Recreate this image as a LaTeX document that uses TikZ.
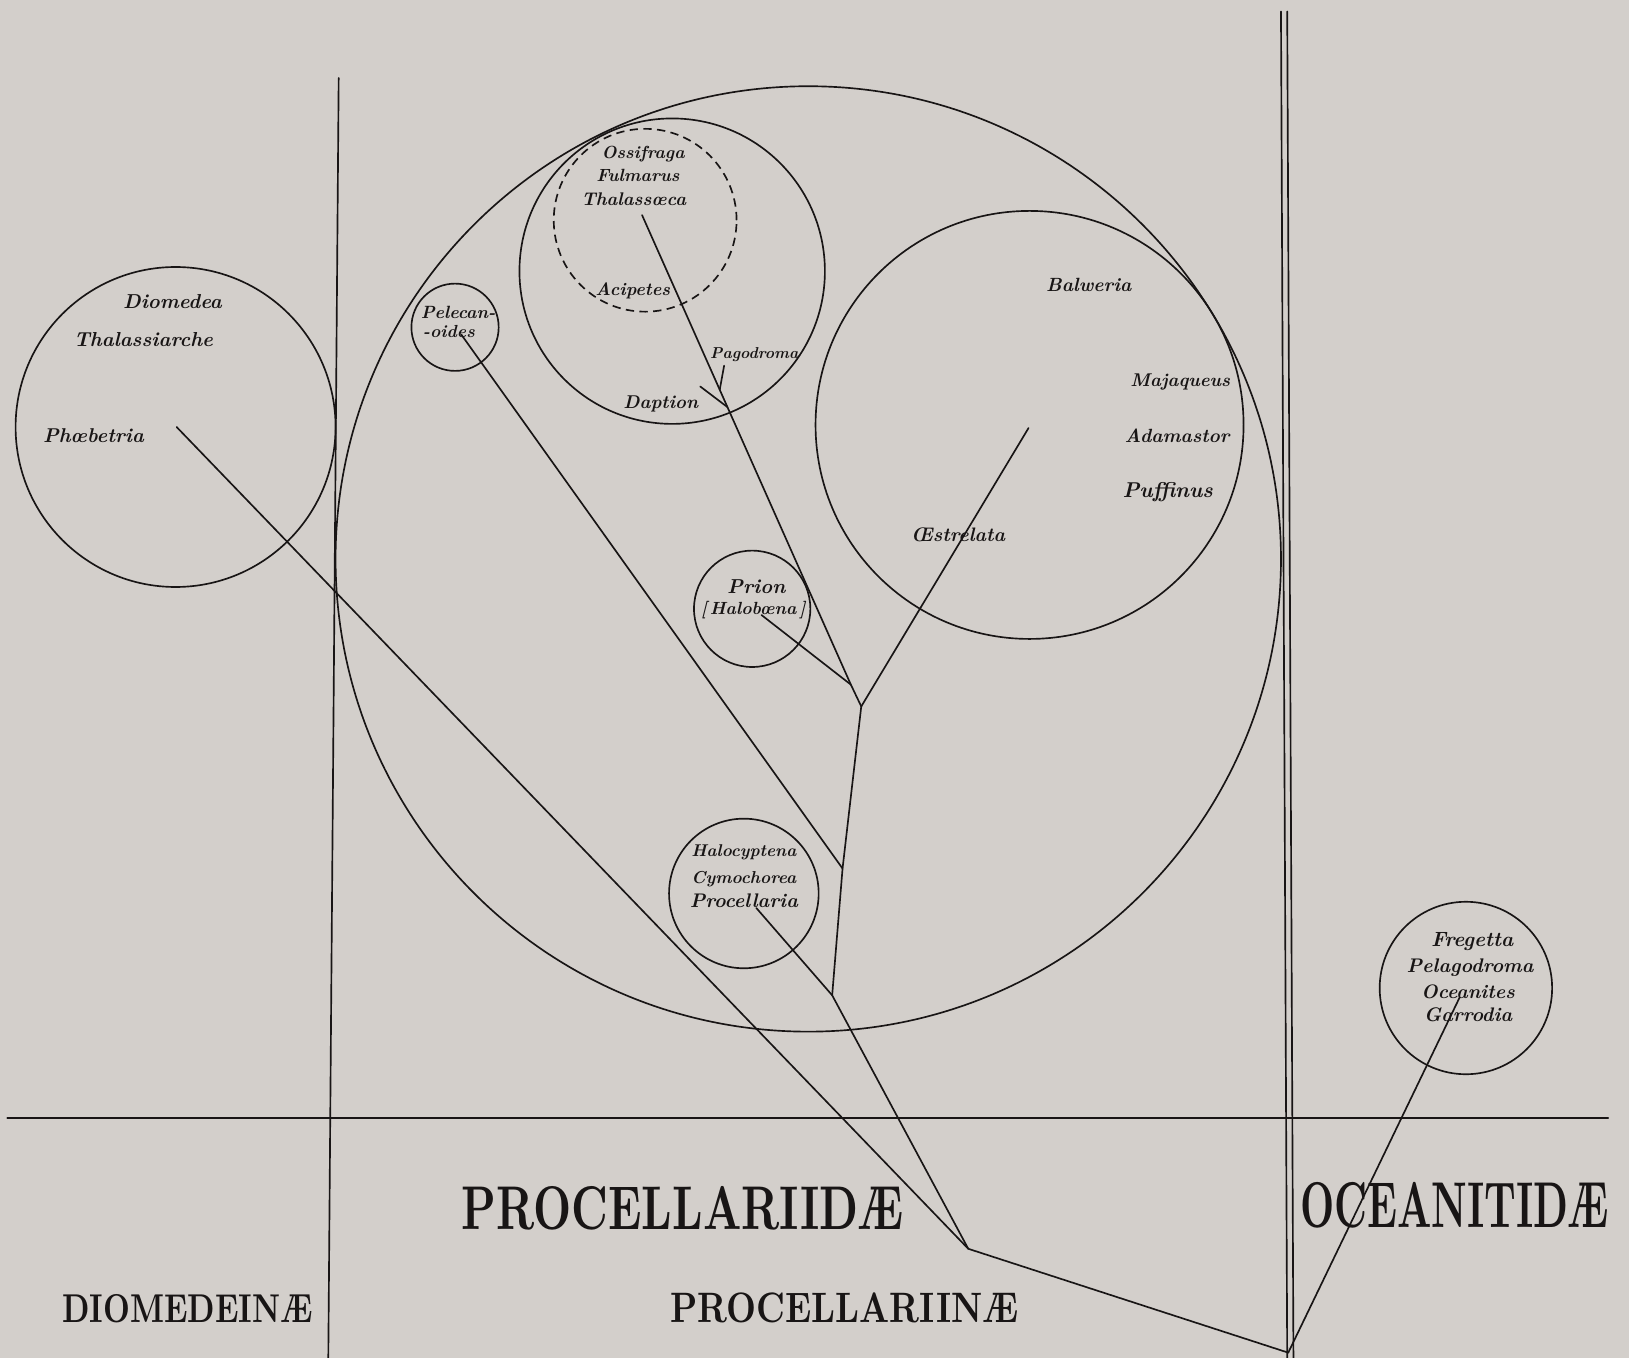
\documentclass[tikz,border=0pt]{standalone}
\usepackage{graphicx}
\usetikzlibrary{calc}
\definecolor{bgc}{RGB}{211,207,203}
\definecolor{ink}{RGB}{24,21,21}
\newcommand{\fitw}[2]{\resizebox{#1}{!}{#2}}
\newcommand{\fitwh}[3]{\resizebox{#1}{#2}{#3}}
\begin{document}
\begin{tikzpicture}[x=0.5pt,y=-0.5pt,
  ln/.style={line width=0.8pt, draw=ink, line cap=round, line join=round},
  ring/.style={circle, draw=ink, line width=0.8pt, inner sep=0pt, outer sep=0pt},
  gen/.style={inner sep=0pt, text=ink, font=\bfseries\itshape},
  grouplab/.style={inner sep=0pt, text=ink, font=\bfseries}]
\fill[bgc] (0,0) rectangle (1568,1307);
\useasboundingbox (0,0) rectangle (1568,1307);

% frame lines
\coordinate (hl1) at (7,1076);
\coordinate (hl2) at (1548,1076);
\coordinate (lv1) at (326,75);
\coordinate (lv2) at (316,1307);
\coordinate (ra1) at (1233,11);
\coordinate (ra2) at (1239,1307);
\coordinate (rb1) at (1239,11);
\coordinate (rb2) at (1245,1307);
\draw[ln] (hl1) -- (hl2);
\draw[ln] (lv1) -- (lv2);
\draw[ln] (ra1) -- (ra2);
\draw[ln] (rb1) -- (rb2);

% circles
\node[ring, minimum size=455pt] (big) at (778,538) {};
\node[ring, minimum size=154pt] (dio) at (169,411) {};
\node[ring, minimum size=147pt] (fulm) at (647,261) {};
\node[ring, dash pattern=on 4pt off 2.6pt, minimum size=88pt] (ossi) at (621,212) {};
\node[ring, minimum size=206pt] (balw) at (991,409) {};
\node[ring, minimum size=42pt] (pelc) at (438,315) {};
\node[ring, minimum size=56pt] (prio) at (724,586) {};
\node[ring, minimum size=72pt] (halo) at (716,860) {};
\node[ring, minimum size=83pt] (ocea) at (1411,951) {};

% genus labels
\node[gen] (tDio) at (166,290) {\fitw{47.5pt}{Diomedea}};
\node[gen] (tTha) at (138,327) {\fitw{67pt}{Thalassiarche}};
\node[gen] (tPho) at (90,419) {\fitw{48.5pt}{Phœbetria}};
\node[gen] (tPe1) at (441,301) {\fitw{36pt}{Pelecan-}};
\node[gen] (tPe2) at (432,319) {\fitw{25pt}{-oides}};
\node[gen] (tOss) at (619,148) {\fitw{40pt}{Ossifraga}};
\node[gen] (tFul) at (614,169) {\fitw{40pt}{Fulmarus}};
\node[gen] (tThc) at (610,192) {\fitw{50.5pt}{Thalassœca}};
\node[gen] (tAci) at (609,280) {\fitw{36pt}{Acipetes}};
\node[gen] (tPag) at (726,341) {\fitw{42.5pt}{Pagodroma}};
\node[gen] (tDap) at (636,389) {\fitw{36pt}{Daption}};
\node[gen] (tBal) at (1048,274) {\fitw{41pt}{Balweria}};
\node[gen] (tMaj) at (1136,368) {\fitw{48pt}{Majaqueus}};
\node[gen] (tAda) at (1133,419) {\fitw{50.5pt}{Adamastor}};
\node[gen] (tPuf) at (1124,474) {\fitw{43.5pt}{Puffinus}};
\node[gen] (tOes) at (922,515) {\fitw{45.5pt}{Œstrelata}};
\node[gen] (tPri) at (728,565) {\fitw{28pt}{Prion}};
\node[gen] (tHlb) at (725,587) {\fitw{50.5pt}{[\,Halobœna\,]}};
\node[gen] (tHcy) at (716,820) {\fitw{50.5pt}{Halocyptena}};
\node[gen] (tCym) at (716,846) {\fitw{50.5pt}{Cymochorea}};
\node[gen] (tPrc) at (716,867) {\fitw{52pt}{Procellaria}};
\node[gen] (tFre) at (1417,906) {\fitw{39.5pt}{Fregetta}};
\node[gen] (tPel) at (1415,931) {\fitw{61pt}{Pelagodroma}};
\node[gen] (tOce) at (1413,955) {\fitw{45pt}{Oceanites}};
\node[gen] (tGar) at (1413,977) {\fitw{42.5pt}{Garrodia}};

% group labels
\node[grouplab] (gPid) at (657,1163) {\fitwh{212.5pt}{20.75pt}{PROCELLARIIDÆ}};
\node[grouplab] (gOce) at (1400,1160) {\fitwh{148.5pt}{21.75pt}{OCEANITIDÆ}};
\node[grouplab] (gPin) at (813,1259) {\fitwh{167.5pt}{14.3pt}{PROCELLARIINÆ}};
\node[grouplab] (gDio) at (180.5,1260) {\fitwh{120.5pt}{13.5pt}{DIOMEDEINÆ}};

% tree points
\coordinate (ph) at (170,411);
\coordinate (J) at (932,1202);
\coordinate (R) at (1240,1302);
\coordinate (B) at (801,958);
\coordinate (T1) at (811,836);
\coordinate (F) at (829,680);
\coordinate (Q) at (819,659);
\coordinate (TH) at (618,207);
\coordinate (HB) at (733,592);
\coordinate (OE) at (990,412);
\coordinate (PR) at (728,874);
\coordinate (PEL) at (444,322);
\coordinate (DA) at (674,372);
\coordinate (PG) at (697,352);
\coordinate (GA) at (1405,960);
\coordinate (D2) at ($(TH)!0.409!(Q)$);
\coordinate (P2) at ($(TH)!0.372!(Q)$);

% tree
\draw[ln] (ph) -- (J);
\draw[ln] (TH) -- (Q) -- (F) -- (T1) -- (B) -- (J) -- (R);
\draw[ln] (GA) -- (R);
\draw[ln] (PEL) -- (T1);
\draw[ln] (PR) -- (B);
\draw[ln] (HB) -- (Q);
\draw[ln] (OE) -- (F);
\draw[ln] (DA) -- (D2);
\draw[ln] (PG) -- (P2);
\end{tikzpicture}
\end{document}
